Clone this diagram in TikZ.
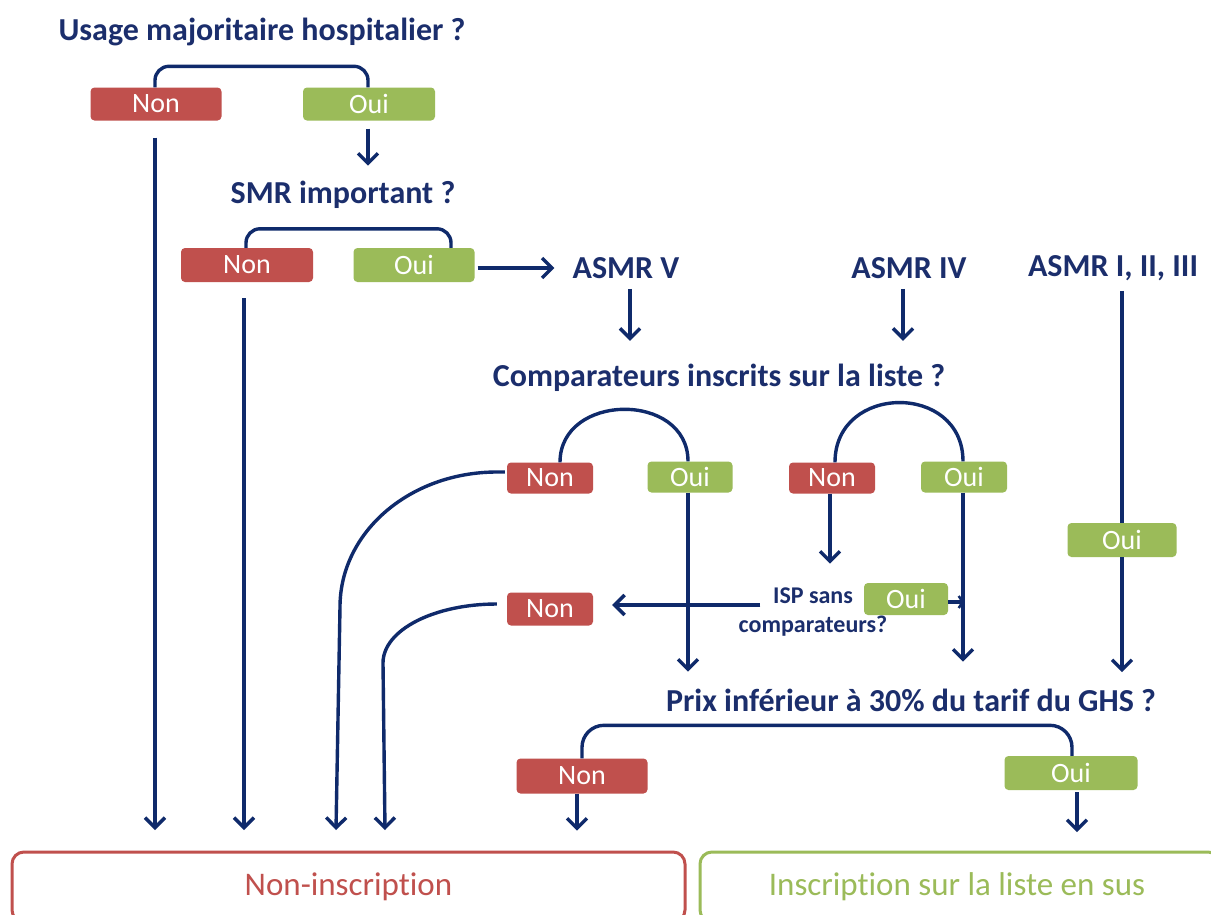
\documentclass[tikz,border=0pt]{standalone}
\usepackage{fontspec}
\setmainfont{Carlito}[Ligatures=NoCommon]
\usetikzlibrary{arrows.meta,calc}
\definecolor{navy}{HTML}{0F2A6B}
\definecolor{qtext}{HTML}{1B2E6C}
\definecolor{rbox}{HTML}{C0504D}
\definecolor{gbox}{HTML}{9BBB59}
\begin{document}
\begin{tikzpicture}[x=1pt,y=-1pt,
  line/.style={draw=navy,line width=3.4pt},
  arr/.style={line,-{Straight Barb[length=10pt,width=20pt,line width=3.4pt]}},
  q/.style={text=qtext,font=\fontsize{32}{36}\selectfont\bfseries,inner sep=0pt},
  smallq/.style={text=qtext,font=\fontsize{24}{29}\selectfont\bfseries,inner sep=0pt,align=center},
  yn/.style={text=white,font=\fontsize{28}{30}\selectfont,rounded corners=4pt,inner sep=0pt},
  nonb/.style={yn,fill=rbox},
  ouib/.style={yn,fill=gbox},
  endbox/.style={rounded corners=12pt,line width=3pt,fill=white,inner sep=0pt,font=\fontsize{33}{36}\selectfont}
]
\clip (0,0) rectangle (1211,914);
\fill[white] (0,0) rectangle (1211,914);

% questions
\node[q] (q1) at (262,32) {Usage majoritaire hospitalier ?};
\node[q] (q2) at (343,195) {SMR important ?};
\node[q] (a5) at (626,268) {ASMR V};
\node[q] (a4) at (909,268) {ASMR IV};
\node[q] (a1) at (1113,268) {ASMR I, II, III};
\node[q] (q3) at (719,378) {Comparateurs inscrits sur la liste ?};
\node[smallq] (isp) at (813,612) {ISP sans\\comparateurs?};
\node[q] (q4) at (911,700) {Prix inférieur à 30\% du tarif du GHS ?};

% yes/no boxes
\node[nonb,minimum width=131pt,minimum height=33pt] (n1) at (156,104) {Non};
\node[ouib,minimum width=132pt,minimum height=33pt] (o1) at (369,104) {Oui};
\node[nonb,minimum width=132pt,minimum height=34pt] (n2) at (247,265) {Non};
\node[ouib,minimum width=121pt,minimum height=34pt] (o2) at (414,265) {Oui};
\node[nonb,minimum width=86pt,minimum height=31pt] (n3) at (550,478) {Non};
\node[ouib,minimum width=85pt,minimum height=31pt] (o3) at (690,477) {Oui};
\node[nonb,minimum width=86pt,minimum height=31pt] (n4) at (832,478) {Non};
\node[ouib,minimum width=86pt,minimum height=31pt] (o4) at (964,477) {Oui};
\node[ouib,minimum width=109pt,minimum height=34pt] (o6) at (1122,540) {Oui};
\node[ouib,minimum width=84pt,minimum height=32pt] (o5) at (906,599) {Oui};
\node[nonb,minimum width=86pt,minimum height=33pt] (n5) at (550,609) {Non};
\node[nonb,minimum width=131pt,minimum height=35pt] (n6) at (582,776) {Non};
\node[ouib,minimum width=133pt,minimum height=34pt] (o7) at (1071,773) {Oui};

% final boxes
\node[endbox,draw=rbox,text=rbox,minimum width=673pt,minimum height=70pt] (ni) at (348.5,887) {Non-inscription};
\node[endbox,draw=gbox,text=gbox,minimum width=520pt,minimum height=70pt] (ins) at (960,887) {\makebox[0pt]{\kern-6pt Inscription sur la liste en sus}};

% free ends of connectors
\coordinate (e1) at (155,830);
\coordinate (e2) at (244,830);
\coordinate (e3) at (336,830);
\coordinate (e5) at (385,830);

% connectors
\draw[line,rounded corners=14pt] ([xshift=-1pt]n1.north) -- ++(0,-21) -| ([xshift=-1pt]o1.north);
\draw[arr] ([shift={(-1pt,-8pt)}]o1.south) -- ++(0,37);
\draw[arr] ([shift={(-1pt,-17pt)}]n1.south) -- (e1);

\draw[line,rounded corners=14pt] ([xshift=-1pt]n2.north) -- ++(0,-19) -| ([xshift=37pt]o2.north);
\draw[arr] ([shift={(-3pt,-16pt)}]n2.south) -- (e2);
\draw[arr] ([xshift=3pt,yshift=-3pt]o2.east) -- ([xshift=-18pt,yshift=0pt]a5.west);

\draw[arr] ([xshift=4pt,yshift=-10pt]a5.south) -- ++(0,52);
\draw[arr] ([xshift=-6pt,yshift=-10pt]a4.south) -- ++(0,52);

\draw[line] ([xshift=10pt]n3.north) .. controls +(0,-70) and +(0,-70) .. ([xshift=-2pt]o3.north);
\draw[line] ([xshift=3pt]n4.north) .. controls +(0,-79) and +(0,-79) .. ([xshift=-1pt]o4.north);

\draw[arr] ([xshift=-2pt]o3.south) -- ++(0,179);
\draw[arr] ([xshift=-2pt]n4.south) -- ++(0,70);
\draw[arr] ([xshift=-1pt]o4.south) -- ++(0,169);

\draw[arr] ([shift={(22pt,7pt)}]isp.west) -- ([shift={(19pt,4pt)}]n5.east);
\draw[line,-{Straight Barb[length=4pt,width=12pt,line width=2.5pt]}] ([yshift=-3pt]o5.east) -- ++(16,0);

\draw[line] ([xshift=9pt,yshift=-10pt]a1.south) -- (o6.north);
\draw[arr] (o6.south) -- ++(0,115);

\draw[line,rounded corners=22pt] (n6.north) -- ++(0,-33) -| ([xshift=1pt]o7.north);
\draw[arr] ([xshift=-5pt]n6.south) -- ++(0,37);
\draw[arr] ([xshift=6pt,yshift=-2pt]o7.south) -- ++(0,40);

% curved Non connectors
\draw[arr] ([shift={(-2pt,6pt)}]n3.west) -- (497,472) .. controls (410,472) and (340,532) .. (340,607) -- (e3);
\draw[arr] ([shift={(-10pt,5pt)}]n5.west) .. controls (434,604) and (383,630) .. (383,663) -- (e5);
\end{tikzpicture}
\end{document}
